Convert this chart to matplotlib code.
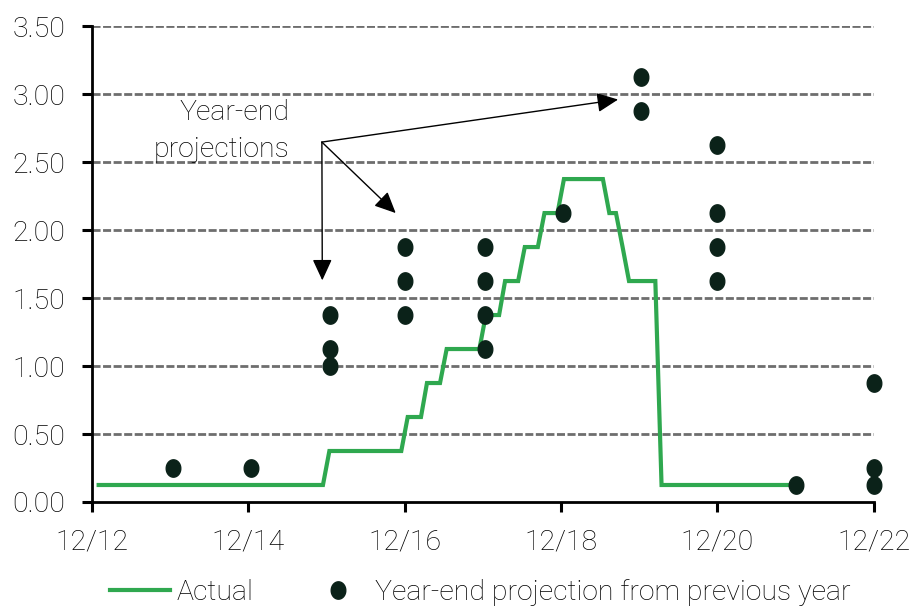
import matplotlib
matplotlib.use("Agg")
import matplotlib.pyplot as plt
import matplotlib.dates as mdates
from matplotlib.path import Path
import numpy as np
import pandas as pd

# Actual policy rate (midpoint), vertices of the monthly line
actual_dates = ["2013-01-01", "2015-11-15", "2015-12-15", "2016-11-15", "2016-12-15",
                "2017-02-15", "2017-03-15", "2017-05-15", "2017-06-15", "2017-11-15",
                "2017-12-15", "2018-02-15", "2018-03-15", "2018-05-15", "2018-06-15",
                "2018-08-15", "2018-09-15", "2018-11-15", "2018-12-15", "2019-06-15",
                "2019-07-15", "2019-08-15", "2019-09-15", "2019-10-15", "2020-02-15",
                "2020-03-15", "2021-12-10"]
actual_rate = [0.125, 0.125, 0.375, 0.375, 0.625,
               0.625, 0.875, 0.875, 1.125, 1.125,
               1.375, 1.375, 1.625, 1.625, 1.875,
               1.875, 2.125, 2.125, 2.375, 2.375,
               2.125, 2.125, 1.875, 1.625, 1.625,
               0.125, 0.125]

# year-end projections from previous year
proj_dates = ["2013-12-16", "2014-12-16",
              "2015-12-16", "2015-12-16", "2015-12-16",
              "2016-12-01", "2016-12-01", "2016-12-01",
              "2017-12-10", "2017-12-10", "2017-12-10", "2017-12-10",
              "2018-12-10",
              "2019-12-08", "2019-12-08",
              "2020-12-01", "2020-12-01", "2020-12-01", "2020-12-01",
              "2021-12-05",
              "2022-12-01", "2022-12-01", "2022-12-01"]
proj_rate = [0.25, 0.25,
             1.375, 1.125, 1.0,
             1.875, 1.625, 1.375,
             1.875, 1.625, 1.375, 1.125,
             2.125,
             3.125, 2.875,
             2.625, 2.125, 1.875, 1.625,
             0.125,
             0.875, 0.25, 0.125]

yticks = [0, 0.5, 1.0, 1.5, 2.0, 2.5, 3.0, 3.5]
xtick_dates = ["2012-12-01", "2014-12-01", "2016-12-01", "2018-12-01", "2020-12-01", "2022-12-01"]

plt.rcParams["font.family"] = ["Roboto", "DejaVu Sans"]
plt.rcParams["font.weight"] = "light"

green = "#2fa84f"
dot = "#0b2219"
txt = "#000000"

fig = plt.figure(figsize=(9.11, 6.07), dpi=100)
ax = fig.add_axes([0.101, 0.173, 0.858, 0.784])

xa = pd.to_datetime(actual_dates)
xp = pd.to_datetime(proj_dates)
xt = pd.to_datetime(xtick_dates)

for y in yticks[1:]:
    ax.axhline(y, color="#6e6e6e", lw=2.0, ls=(0, (2.9, 0.9)), zorder=1)

ax.plot(xa, actual_rate, color=green, lw=3.0, zorder=3, label="Actual",
        solid_joinstyle="miter")

t = np.linspace(0, 2 * np.pi, 60)
ell = Path(np.column_stack([0.84 * np.cos(t), np.sin(t)]))
ax.plot(xp, proj_rate, ls="none", marker=ell, markersize=12.5, color=dot,
        zorder=4, clip_on=False, label="Year-end projection from previous year")

ax.set_xlim(xt[0], xt[-1])
ax.set_ylim(0, 3.5)
ax.set_yticks(yticks)
ax.set_yticklabels(["%.2f" % v for v in yticks])
ax.set_xticks(xt)
ax.xaxis.set_major_formatter(mdates.DateFormatter("%m/%y"))
ax.tick_params(axis="both", labelsize=20.5, colors="black", labelcolor=txt,
               width=2.2, length=7, pad=12)

for s in ["top", "right"]:
    ax.spines[s].set_visible(False)
for s in ["left", "bottom"]:
    ax.spines[s].set_linewidth(2.0)

# annotation
org = (pd.Timestamp("2015-11-10"), 2.647)
tips = [(pd.Timestamp("2015-11-12"), 1.63),
        (pd.Timestamp("2016-10-20"), 2.125),
        (pd.Timestamp("2019-08-25"), 2.96)]
for tip in tips:
    ax.annotate("", xy=tip, xytext=org,
                arrowprops=dict(arrowstyle="-|>,head_length=1.3,head_width=0.6",
                                color="black", lw=1.0, shrinkA=0, shrinkB=0),
                zorder=5)
ax.text(pd.Timestamp("2015-06-10"), 2.73, "Year-end\nprojections", ha="right",
        va="center", multialignment="right", fontsize=20.5, color=txt,
        linespacing=1.5, zorder=5)

leg = ax.legend(loc="center left", bbox_to_anchor=(0.1207, 0.024),
                bbox_transform=fig.transFigure, ncol=2, frameon=False,
                fontsize=20.5, handlelength=2.1, handletextpad=0.25,
                columnspacing=1.9, labelcolor=txt, borderpad=0, borderaxespad=0)

fig.savefig("out.png", dpi=100)
